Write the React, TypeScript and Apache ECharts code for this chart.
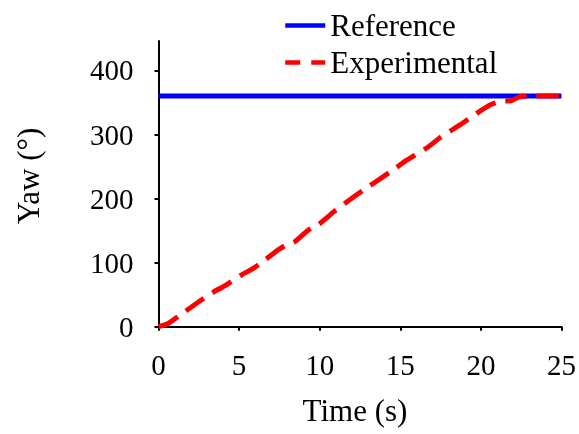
import React, { useEffect, useRef } from "react";
import * as echarts from "echarts";

const timeS = [0, 0.6, 1.33, 2.68, 3.6, 4.0, 5.16, 5.88, 6.6, 7.43, 7.95, 8.47, 9.3, 9.9, 10.3, 10.9, 12.3, 14.57, 15.4, 16.64, 17.46, 18.7, 19.74, 20.56, 21.3, 21.9, 22.4, 23.0, 25];
const yawExp = [0, 5, 18, 42, 57, 62, 81, 91, 104, 120, 128, 133, 151, 159, 167, 180, 206, 245, 260, 279, 295, 315, 333, 346, 352, 353, 359, 360, 360];
const refTime = [0, 25];
const refYaw = [360, 360];
const yTicks = [0, 100, 200, 300, 400];
const seriesNames = ["Reference", "Experimental"];

const FONT = "Liberation Serif";

export default function App() {
  const ref = useRef<HTMLDivElement>(null);
  useEffect(() => {
    if (!ref.current) return;
    const chart = echarts.init(ref.current, undefined, { renderer: "svg" });
    chart.setOption({
      animation: false,
      textStyle: { fontFamily: FONT, color: "#000" },
      grid: { left: 158.5, right: 17.5, top: 41, bottom: 107.3 },
      legend: {
        orient: "vertical",
        left: 283,
        top: 10,
        padding: 0,
        itemWidth: 40,
        itemHeight: 14,
        itemGap: 6,
        itemStyle: { opacity: 0 },
        lineStyle: { width: 4.5 },
        data: [
          { name: seriesNames[0] },
          { name: seriesNames[1], lineStyle: { type: [15, 11], width: 4.5 } },
        ],
        textStyle: { fontFamily: FONT, fontSize: 31, color: "#000" },
      },
      xAxis: {
        type: "value",
        min: 0,
        max: 25,
        interval: 5,
        name: "Time (s)",
        nameLocation: "middle",
        nameGap: 68,
        nameTextStyle: { fontFamily: FONT, fontSize: 31, color: "#000", padding: [0, 10, 0, 0] },
        axisLine: { lineStyle: { color: "#000", width: 2 } },
        axisTick: { show: true, length: 4, lineStyle: { color: "#000", width: 2 } },
        axisLabel: { fontFamily: FONT, fontSize: 29, color: "#000", margin: 24 },
        splitLine: { show: false },
      },
      yAxis: {
        type: "value",
        min: 0,
        max: 446,
        name: "Yaw (°)",
        nameLocation: "middle",
        nameGap: 115,
        nameRotate: 90,
        nameTextStyle: { fontFamily: FONT, fontSize: 31, color: "#000", padding: [0, 0, 0, 16] },
        axisLine: { show: true, lineStyle: { color: "#000", width: 2 } },
        axisTick: { show: true, length: 4, customValues: yTicks, lineStyle: { color: "#000", width: 2 } },
        axisLabel: { fontFamily: FONT, fontSize: 29, color: "#000", margin: 25, customValues: yTicks },
        splitLine: { show: false },
      },
      series: [
        {
          name: seriesNames[0],
          type: "line",
          data: refTime.map((t, i) => [t, refYaw[i]]),
          symbol: "none",
          lineStyle: { color: "#0000ff", width: 5 },
          itemStyle: { color: "#0000ff" },
        },
        {
          name: seriesNames[1],
          type: "line",
          data: timeS.map((t, i) => [t, yawExp[i]]),
          symbol: "none",
          smooth: 0.2,
          lineStyle: { color: "#ff0000", width: 5, type: [22, 10] },
          itemStyle: { color: "#ff0000" },
        },
      ],
    });
    return () => chart.dispose();
  }, []);
  return <div ref={ref} style={{ position: "fixed", left: 0, top: 0, width: 579, height: 434 }} />;
}
